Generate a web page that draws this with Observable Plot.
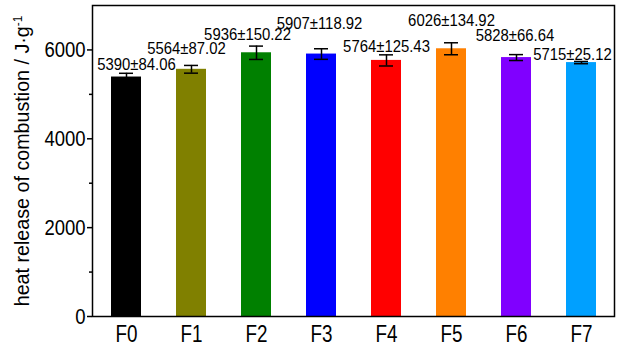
<!DOCTYPE html>
<html>
<head>
<meta charset="utf-8">
<script src="https://cdn.jsdelivr.net/npm/d3@7"></script>
<script src="https://cdn.jsdelivr.net/npm/@observablehq/plot@0.6"></script>
<style>
  html, body { margin: 0; padding: 0; background: #fff; overflow: hidden; }
</style>
</head>
<body>
<div id="chart"></div>
<script>
// ---- data ----
const categories = ["F0", "F1", "F2", "F3", "F4", "F5", "F6", "F7"];
const means = [5390, 5564, 5936, 5907, 5764, 6026, 5828, 5715];
const sds = [84.06, 87.02, 150.22, 118.92, 125.43, 134.92, 66.64, 25.12];
const colors = ["#000000", "#808000", "#008000", "#0000FF", "#FF0000", "#FF8000", "#8000FF", "#00A0FF"];
// annotation anchors (in data units) and horizontal nudges of the value labels
const labelAt = [5658, 6034, 6333, 6584, 6072, 6652, 6315, 5892];
const labelDx = [10, -5, -9, -2, 0, 0, -1.5, -9];
const majorTicks = [0, 2000, 4000, 6000];
const minorTicks = [1000, 3000, 5000];
const yTitle = "heat release of combustion / J·g";
const yTitleSup = "-1";

const table = categories.map((c, i) => ({
  cat: c, mean: means[i], sd: sds[i],
  lo: means[i] - sds[i], hi: means[i] + sds[i],
  label: `${means[i]}±${sds[i].toFixed(2)}`,
  labelY: labelAt[i], dx: labelDx[i]
}));

const font = '"Liberation Sans", Arial, sans-serif';

const chart = Plot.plot({
  width: 618,
  height: 353,
  marginLeft: 92,
  marginRight: 4,
  marginTop: 5,
  marginBottom: 37,
  style: { fontFamily: font, fontSize: "23px", background: "#fff", color: "#000", overflow: "visible" },
  x: { domain: categories, paddingInner: 0.54, paddingOuter: 0.27, axis: null },
  y: { domain: [0, 7000], axis: null },
  color: { domain: categories, range: colors },
  marks: [
    Plot.barY(table, { x: "cat", y: "mean", fill: "cat" }),
    Plot.ruleX(table, { x: "cat", y1: "lo", y2: "hi", stroke: "#000", strokeWidth: 1.5 }),
    Plot.tickY(table, { x: "cat", y: "hi", insetLeft: 8, insetRight: 8, stroke: "#000", strokeWidth: 1.5 }),
    Plot.tickY(table, { x: "cat", y: "lo", insetLeft: 8, insetRight: 8, stroke: "#000", strokeWidth: 1.5 }),
    ...table.map(d => Plot.text([d], {
      x: "cat", y: "labelY", text: "label", dx: d.dx,
      fontSize: 16, fill: "#000", className: "vlabel"
    })),
    Plot.frame({ stroke: "#000", strokeWidth: 1.5 }),
    Plot.axisX({ tickSize: 0, tickPadding: 9, label: null, fontSize: 23 }),
    Plot.axisY({ ticks: majorTicks, tickSize: 5, tickPadding: 2, strokeWidth: 1.5, label: null,
                 tickFormat: d => String(d), fontSize: 22.5 }),
    Plot.axisY({ ticks: minorTicks, tickSize: 3, strokeWidth: 1.5, label: null, tickFormat: () => "" }),
    Plot.text([yTitle], { frameAnchor: "left", textAnchor: "middle", dx: -70, rotate: -90, fontSize: 20.5, fill: "#000" })
  ]
});

document.getElementById("chart").appendChild(chart);

// add the superscript to the y title
let titleEl = null;
d3.select(chart).selectAll("text").each(function () {
  if (this.textContent === yTitle) {
    d3.select(this).append("tspan")
      .attr("dy", "-0.55em")
      .attr("font-size", "0.6em")
      .text(yTitleSup);
    titleEl = this;
  }
});
// the reference uses a narrower face: condense texts horizontally
function condense(el, k) {
  const len = el.getComputedTextLength();
  if (len > 0) {
    el.setAttribute("textLength", (len * k).toFixed(1));
    el.setAttribute("lengthAdjust", "spacingAndGlyphs");
  }
}
chart.querySelectorAll('g[aria-label="x-axis tick label"] text, g[aria-label="y-axis tick label"] text')
  .forEach(t => condense(t, 0.82));
chart.querySelectorAll('g.vlabel text').forEach(t => condense(t, 0.93));
if (titleEl) condense(titleEl, 0.96);
</script>
</body>
</html>
